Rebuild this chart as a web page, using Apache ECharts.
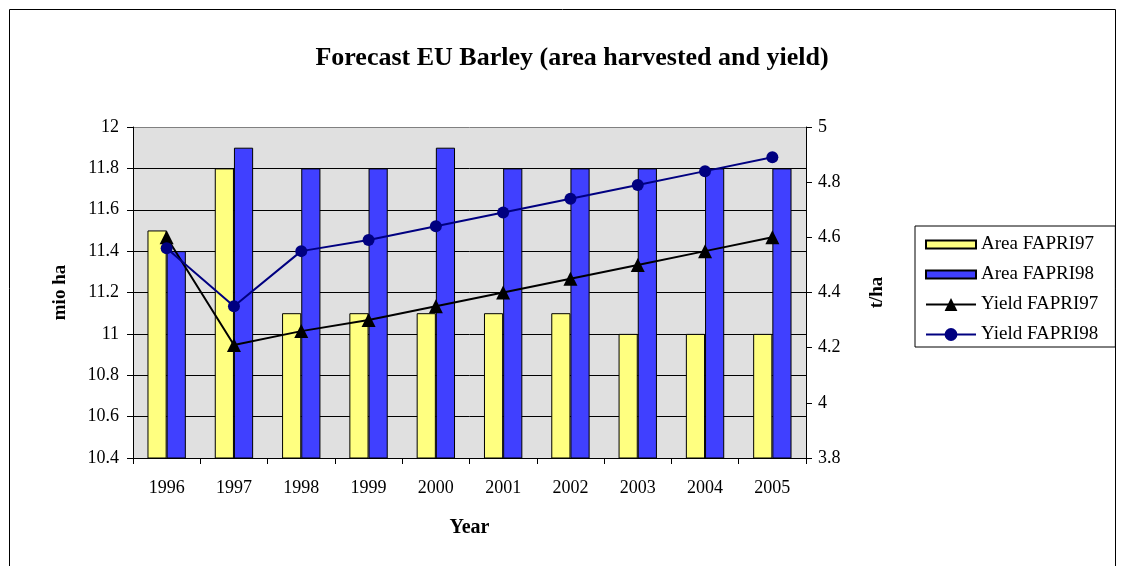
<!DOCTYPE html>
<html><head><meta charset="utf-8">
<script src="https://cdn.jsdelivr.net/npm/echarts@6/dist/echarts.min.js"></script>
<style>html,body{margin:0;padding:0;background:#fff}#c{width:1121px;height:566px}</style>
</head><body><div id="c"></div>
<script>
const years = ['1996','1997','1998','1999','2000','2001','2002','2003','2004','2005'];
const areaFAPRI97 = [11.5, 11.8, 11.1, 11.1, 11.1, 11.1, 11.1, 11.0, 11.0, 11.0];
const areaFAPRI98 = [11.4, 11.9, 11.8, 11.8, 11.9, 11.8, 11.8, 11.8, 11.8, 11.8];
const yieldFAPRI97 = [4.60, 4.21, 4.26, 4.30, 4.35, 4.40, 4.45, 4.50, 4.55, 4.60];
const yieldFAPRI98 = [4.56, 4.35, 4.55, 4.59, 4.64, 4.69, 4.74, 4.79, 4.84, 4.89];

const font = 'Liberation Serif';
const rectIcon = 'path://M0,0L50,0L50,8L0,8Z';
const chart = echarts.init(document.getElementById('c'));
chart.setOption({
  animation: false,
  backgroundColor: '#ffffff',
  textStyle: { fontFamily: font },
  title: {
    text: 'Forecast EU Barley (area harvested and yield)',
    left: 567, top: 40, textAlign: 'center',
    textStyle: { fontFamily: font, fontSize: 26, fontWeight: 'bold', color: '#000' }
  },
  graphic: [{
    type: 'rect', shape: { x: 9.5, y: 9.5, width: 1106, height: 600 },
    style: { fill: 'none', stroke: '#000', lineWidth: 1 }, z: -1
  }],
  legend: {
    orient: 'vertical', left: 915, top: 226,
    borderColor: '#000', borderWidth: 1, padding: [9, 17, 3, 10],
    itemWidth: 50, itemHeight: 16, itemGap: 11,
    symbolKeepAspect: true,
    textStyle: { fontFamily: font, fontSize: 19, color: '#000' },
    data: [
      { name: 'Area FAPRI97', icon: rectIcon },
      { name: 'Area FAPRI98', icon: rectIcon },
      'Yield FAPRI97', 'Yield FAPRI98'
    ]
  },
  grid: { left: 133, right: 315, top: 127, bottom: 108, show: true, backgroundColor: '#e0e0e0', borderWidth: 0 },
  xAxis: {
    type: 'category', data: years, boundaryGap: true,
    name: 'Year', nameLocation: 'middle', nameGap: 60,
    nameTextStyle: { fontFamily: font, fontSize: 20, fontWeight: 'bold', color: '#000' },
    axisLine: { lineStyle: { color: '#000', width: 1 } },
    axisTick: { show: true, alignWithLabel: false, length: 6, lineStyle: { color: '#000' } },
    axisLabel: { fontFamily: font, fontSize: 18, color: '#000', margin: 21 }
  },
  yAxis: [{
    type: 'value', min: 10.4, max: 12, interval: 0.2, position: 'left',
    name: 'mio ha', nameLocation: 'middle', nameGap: 63, nameRotate: 90,
    nameTextStyle: { fontFamily: font, fontSize: 19, fontWeight: 'bold', color: '#000' },
    axisLine: { show: true, lineStyle: { color: '#000', width: 1 } },
    axisTick: { show: true, length: 6, lineStyle: { color: '#000' } },
    axisLabel: { fontFamily: font, fontSize: 18, color: '#000', margin: 14,
      formatter: v => String(Math.round(v * 10) / 10) },
    splitLine: { show: true, lineStyle: { color: ['#000','#000','#000','#000','#000','#000','#000','#000','#808080'], width: 1 } }
  }, {
    type: 'value', min: 3.8, max: 5, interval: 0.2, position: 'right',
    name: 't/ha', nameLocation: 'middle', nameGap: 62, nameRotate: 90,
    nameTextStyle: { fontFamily: font, fontSize: 19, fontWeight: 'bold', color: '#000' },
    axisLine: { show: true, lineStyle: { color: '#000', width: 1 } },
    axisTick: { show: true, length: 6, lineStyle: { color: '#000' } },
    axisLabel: { fontFamily: font, fontSize: 18, color: '#000', margin: 12,
      formatter: v => String(Math.round(v * 10) / 10) },
    splitLine: { show: false }
  }],
  series: [{
    name: 'Area FAPRI97', type: 'bar', data: areaFAPRI97, yAxisIndex: 0,
    barGap: '0%', barCategoryGap: '43%',
    itemStyle: { color: '#ffff80', borderColor: '#000', borderWidth: 1 }
  }, {
    name: 'Area FAPRI98', type: 'bar', data: areaFAPRI98, yAxisIndex: 0,
    barGap: '0%', barCategoryGap: '43%',
    itemStyle: { color: '#4040ff', borderColor: '#000', borderWidth: 1 }
  }, {
    name: 'Yield FAPRI97', type: 'line', data: yieldFAPRI97, yAxisIndex: 1,
    symbol: 'triangle', symbolSize: 14,
    lineStyle: { color: '#000', width: 2 },
    itemStyle: { color: '#000' }
  }, {
    name: 'Yield FAPRI98', type: 'line', data: yieldFAPRI98, yAxisIndex: 1,
    symbol: 'circle', symbolSize: 12,
    lineStyle: { color: '#000080', width: 2 },
    itemStyle: { color: '#000080' }
  }]
});
</script></body></html>
